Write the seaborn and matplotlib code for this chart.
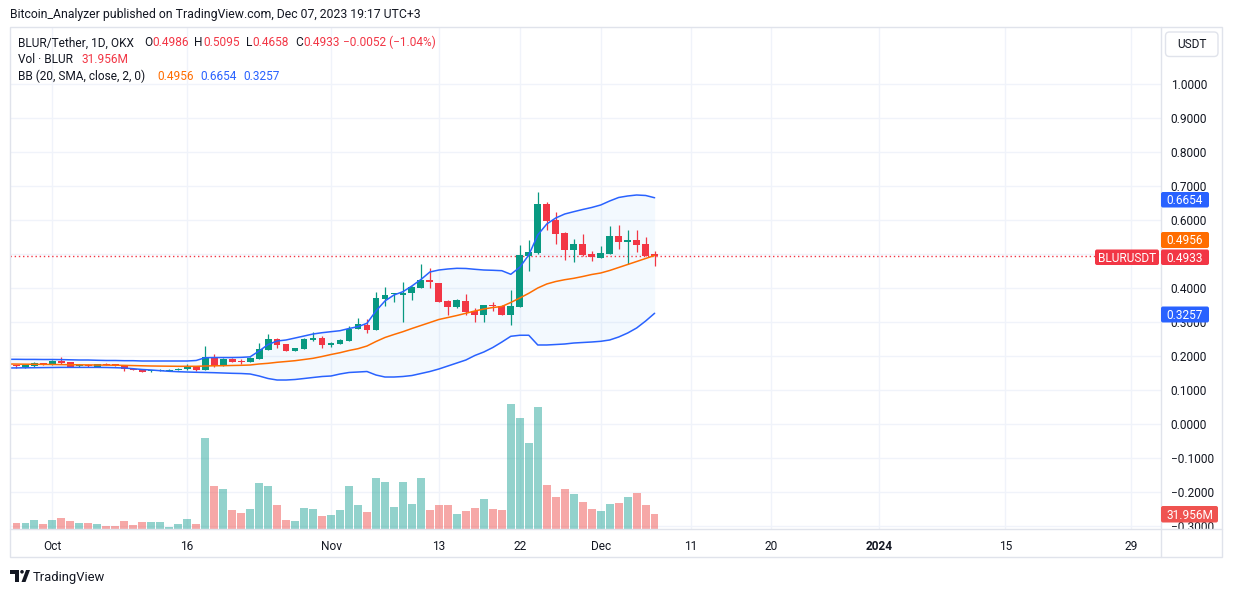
"""BLUR/USDT daily candles with Bollinger Bands and volume, TradingView style."""

import matplotlib

matplotlib.use("Agg")
import matplotlib.pyplot as plt  # noqa: E402
import matplotlib.dates as mdates  # noqa: E402
import matplotlib.transforms as mtransforms  # noqa: E402
from matplotlib.lines import Line2D  # noqa: E402
from matplotlib.patches import Circle, FancyBboxPatch, Polygon, Rectangle  # noqa: E402
import numpy as np  # noqa: E402
import pandas as pd  # noqa: E402
import seaborn as sns  # noqa: E402

W, H = 1233, 592

# ---- data ----
dates = pd.date_range("2023-09-26", "2023-12-07", freq="D")

opens = [
    0.1735, 0.1710, 0.1667, 0.1697, 0.1785, 0.1755, 0.1853, 0.1814, 0.1716, 0.1735,
    0.1676, 0.1765, 0.1755, 0.1697, 0.1627, 0.1609, 0.1550, 0.1562, 0.1565, 0.1597,
    0.1609, 0.1697, 0.1597, 0.1971, 0.1706, 0.1921, 0.1853, 0.1833, 0.1921, 0.2176,
    0.2500, 0.2353, 0.2157, 0.2206, 0.2462, 0.2529, 0.2333, 0.2363, 0.2451, 0.2804,
    0.2912, 0.2775, 0.3686, 0.3815, 0.3785, 0.3844, 0.4010, 0.4235, 0.4138, 0.3618,
    0.3450, 0.3618, 0.3324, 0.3215, 0.3500, 0.3471, 0.3215, 0.3450, 0.4950, 0.5040,
    0.6470, 0.6000, 0.5618, 0.5127, 0.5294, 0.5000, 0.4890, 0.5010, 0.5530, 0.5360,
    0.5410, 0.5294, 0.4986,
]
highs = [
    0.1765, 0.1735, 0.1750, 0.1833, 0.1800, 0.1870, 0.1970, 0.1830, 0.1765, 0.1760,
    0.1775, 0.1780, 0.1770, 0.1735, 0.1640, 0.1620, 0.1590, 0.1610, 0.1610, 0.1650,
    0.1765, 0.1710, 0.2290, 0.2060, 0.1930, 0.1930, 0.1903, 0.1960, 0.2380, 0.2650,
    0.2540, 0.2365, 0.2245, 0.2520, 0.2706, 0.2580, 0.2420, 0.2490, 0.2880, 0.3126,
    0.3088, 0.3880, 0.4030, 0.3862, 0.4176, 0.4060, 0.4700, 0.4590, 0.4150, 0.3650,
    0.3690, 0.3810, 0.3400, 0.3500, 0.3590, 0.3500, 0.3940, 0.5260, 0.5410, 0.6820,
    0.6530, 0.6235, 0.5640, 0.5450, 0.5590, 0.5090, 0.5235, 0.5820, 0.5850, 0.5706,
    0.5706, 0.5500, 0.5095,
]
lows = [
    0.1676, 0.1647, 0.1660, 0.1690, 0.1745, 0.1745, 0.1765, 0.1665, 0.1686, 0.1690,
    0.1670, 0.1725, 0.1705, 0.1569, 0.1585, 0.1530, 0.1520, 0.1550, 0.1555, 0.1590,
    0.1600, 0.1569, 0.1590, 0.1690, 0.1700, 0.1815, 0.1765, 0.1825, 0.1910, 0.2165,
    0.2245, 0.2150, 0.2150, 0.2195, 0.2441, 0.2245, 0.2255, 0.2350, 0.2440, 0.2790,
    0.2685, 0.2770, 0.3480, 0.3600, 0.3000, 0.3650, 0.3990, 0.4010, 0.3590, 0.3206,
    0.3400, 0.3206, 0.3000, 0.3010, 0.3330, 0.3200, 0.2920, 0.3440, 0.4510, 0.4990,
    0.5706, 0.5290, 0.4820, 0.4770, 0.4950, 0.4800, 0.4870, 0.5000, 0.5150, 0.4700,
    0.5070, 0.4950, 0.4658,
]
closes = [
    0.1697, 0.1700, 0.1726, 0.1794, 0.1755, 0.1853, 0.1794, 0.1676, 0.1735, 0.1706,
    0.1765, 0.1735, 0.1716, 0.1609, 0.1597, 0.1539, 0.1562, 0.1588, 0.1590, 0.1627,
    0.1697, 0.1597, 0.1971, 0.1706, 0.1921, 0.1824, 0.1833, 0.1951, 0.2206, 0.2500,
    0.2324, 0.2157, 0.2235, 0.2510, 0.2529, 0.2324, 0.2392, 0.2471, 0.2804, 0.2932,
    0.2775, 0.3706, 0.3794, 0.3844, 0.3862, 0.4029, 0.4235, 0.4167, 0.3597, 0.3450,
    0.3647, 0.3303, 0.3215, 0.3500, 0.3471, 0.3215, 0.3471, 0.4971, 0.5068, 0.6470,
    0.5980, 0.5597, 0.5127, 0.5294, 0.4980, 0.4903, 0.5030, 0.5530, 0.5360, 0.5410,
    0.5270, 0.4950, 0.4933,
]
volumes_m = [
    6.5, 13, 13, 19.5, 11, 19.5, 24, 17.5, 13, 13,
    11, 6.5, 6.5, 17.5, 8.5, 15, 15, 15, 4.5, 11,
    21.5, 11, 198, 93, 87, 41, 35, 43, 100, 93,
    52, 19.5, 17.5, 45.5, 43, 28, 30, 41, 93, 52,
    37, 111, 102, 48, 102, 54, 111, 41, 52, 52,
    32.5, 39, 45.5, 65, 43, 41, 271, 241, 187, 265,
    95.5, 69.5, 87, 76, 58.5, 43, 39, 54, 56.5, 69.5,
    78, 52, 31.956,
]
bb_upper = [
    0.1903, 0.1903, 0.1900, 0.1900, 0.1897, 0.1897, 0.1894, 0.1888, 0.1882, 0.1882,
    0.1874, 0.1868, 0.1868, 0.1862, 0.1862, 0.1853, 0.1853, 0.1853, 0.1853, 0.1853,
    0.1853, 0.1868, 0.1950, 0.1955, 0.1955, 0.1955, 0.1960, 0.1975, 0.2147, 0.2338,
    0.2441, 0.2471, 0.2529, 0.2588, 0.2647, 0.2685, 0.2715, 0.2744, 0.2809, 0.2862,
    0.2962, 0.3324, 0.3618, 0.3794, 0.3891, 0.4059, 0.4250, 0.4471, 0.4529, 0.4559,
    0.4579, 0.4574, 0.4550, 0.4529, 0.4521, 0.4509, 0.4403, 0.4609, 0.4971, 0.5559,
    0.5882, 0.6059, 0.6176, 0.6244, 0.6309, 0.6368, 0.6441, 0.6559, 0.6662, 0.6706,
    0.6735, 0.6721, 0.6654,
]
bb_basis = [
    0.1765, 0.1762, 0.1759, 0.1756, 0.1753, 0.1750, 0.1747, 0.1744, 0.1741, 0.1738,
    0.1735, 0.1732, 0.1729, 0.1724, 0.1718, 0.1712, 0.1706, 0.1703, 0.1700, 0.1697,
    0.1697, 0.1697, 0.1706, 0.1712, 0.1715, 0.1721, 0.1726, 0.1735, 0.1765, 0.1785,
    0.1815, 0.1838, 0.1862, 0.1897, 0.1932, 0.1985, 0.2044, 0.2097, 0.2162, 0.2215,
    0.2294, 0.2426, 0.2544, 0.2632, 0.2715, 0.2809, 0.2897, 0.2985, 0.3074, 0.3132,
    0.3191, 0.3256, 0.3324, 0.3382, 0.3426, 0.3456, 0.3574, 0.3706, 0.3844, 0.4000,
    0.4118, 0.4191, 0.4244, 0.4285, 0.4338, 0.4397, 0.4441, 0.4515, 0.4603, 0.4691,
    0.4779, 0.4868, 0.4956,
]
bb_lower = [
    0.1647, 0.1650, 0.1653, 0.1656, 0.1659, 0.1662, 0.1665, 0.1665, 0.1665, 0.1665,
    0.1665, 0.1662, 0.1656, 0.1647, 0.1626, 0.1603, 0.1588, 0.1568, 0.1550, 0.1538,
    0.1529, 0.1521, 0.1515, 0.1509, 0.1500, 0.1491, 0.1485, 0.1471, 0.1412, 0.1338,
    0.1294, 0.1294, 0.1309, 0.1338, 0.1368, 0.1397, 0.1412, 0.1471, 0.1515, 0.1529,
    0.1544, 0.1441, 0.1382, 0.1382, 0.1397, 0.1426, 0.1485, 0.1544, 0.1618, 0.1706,
    0.1794, 0.1882, 0.2015, 0.2118, 0.2250, 0.2410, 0.2580, 0.2610, 0.2610, 0.2324,
    0.2324, 0.2338, 0.2353, 0.2382, 0.2397, 0.2412, 0.2432, 0.2471, 0.2559, 0.2676,
    0.2824, 0.3029, 0.3257,
]

price_ticks = [1.0, 0.9, 0.8, 0.7, 0.6, 0.5, 0.4, 0.3, 0.2, 0.1, 0.0, -0.1, -0.2, -0.3]
# 0.5000 sits fully under the last-price labels, so it is left blank
hidden_ticks = [0.5]
date_ticks = ["2023-10-01", "2023-10-16", "2023-11-01", "2023-11-13", "2023-11-22",
              "2023-12-01", "2023-12-11", "2023-12-20", "2024-01-01", "2024-01-15",
              "2024-01-29"]
date_tick_labels = ["Oct", "16", "Nov", "13", "22", "Dec", "11", "20", "2024", "15", "29"]

last_close = closes[-1]

# ---- style ----
UP, DOWN = "#089981", "#f23645"
VOL_UP, VOL_DOWN = "#26a69a", "#ef5350"
BLUE, ORANGE = "#2962ff", "#ff6d00"
TXT = "#131722"
GRID = "#f0f3fa"
BORDER = "#e0e3eb"
FS = 8.6  # pt

sns.set_theme(style="white")
plt.rcParams["font.family"] = ["Roboto", "DejaVu Sans"]

df = pd.DataFrame({
    "date": dates, "open": opens, "high": highs, "low": lows, "close": closes,
    "volume": volumes_m, "upper": bb_upper, "basis": bb_basis, "lower": bb_lower,
})
df["x"] = mdates.date2num(df["date"])
df["up"] = df["close"] >= df["open"]

dec1 = mdates.date2num(pd.Timestamp("2023-12-01"))
XLIM = (dec1 - 65.71, dec1 + 62.33)
YLIM = (-0.3088, 1.1676)
VOL_TOP = 1089

fig = plt.figure(figsize=(W / 100, H / 100), dpi=100)
fig.patch.set_facecolor("white")
PX = mtransforms.IdentityTransform()


def fx(x):
    return x / W


def fy(y):
    return 1 - y / H


def ftext(x, yc, s, color=TXT, size=FS, ha="left", **kw):
    # place text by its visual centre line (top-origin pixel coords)
    px = size * 100 / 72
    return fig.text(fx(x), fy(yc + 0.36 * px), s, color=color, fontsize=size,
                    ha=ha, va="baseline", **kw)


rect = [fx(10), fy(529), 1151 / W, 502 / H]
ax_bg = fig.add_axes(rect, zorder=1)
ax_vol = fig.add_axes(rect, zorder=2)
ax = fig.add_axes(rect, zorder=3)

tick_x = mdates.date2num(pd.to_datetime(date_ticks))

# grid layer
for p in price_ticks:
    ax_bg.axhline(p, color=GRID, lw=1)
for t in tick_x:
    ax_bg.axvline(t, color=GRID, lw=1)
ax_bg.set_xlim(XLIM)
ax_bg.set_ylim(YLIM)
ax_bg.set_axis_off()

# volume layer
vol_cols = np.where(df["up"], VOL_UP, VOL_DOWN)
ax_vol.bar(df["x"], df["volume"], width=0.86, color=vol_cols, alpha=0.5, lw=0)
ax_vol.set_xlim(XLIM)
ax_vol.set_ylim(0, VOL_TOP)
ax_vol.set_axis_off()

# price layer: Bollinger fill + lines, candles
ax.fill_between(df["x"], df["lower"], df["upper"], color="#2196f3", alpha=0.05, lw=0, zorder=1)
cols = np.where(df["up"], UP, DOWN)
ax.vlines(df["x"], df["low"], df["high"], colors=cols, lw=0.9, zorder=3)
body_lo = np.minimum(df["open"], df["close"])
body_h = np.maximum((df["close"] - df["open"]).abs(), 0.003)
ax.bar(df["x"], body_h, bottom=body_lo, width=0.76, color=cols, lw=0, zorder=3)
sns.lineplot(data=df, x="x", y="upper", ax=ax, color=BLUE, lw=1.1, legend=False, zorder=4)
sns.lineplot(data=df, x="x", y="lower", ax=ax, color=BLUE, lw=1.1, legend=False, zorder=4)
sns.lineplot(data=df, x="x", y="basis", ax=ax, color=ORANGE, lw=1.1, legend=False, zorder=4)
ax.axhline(last_close, xmin=0, xmax=(1095 - 10) / 1151, color=DOWN, lw=1,
           ls=(0, (1, 2)), zorder=2)

ax.set_xlim(XLIM)
ax.set_ylim(YLIM)
ax.set_xlabel("")
ax.set_ylabel("")
ax.patch.set_visible(False)
for s in ax.spines.values():
    s.set_visible(False)
ax.yaxis.tick_right()
ax.set_yticks(price_ticks)
ax.set_yticklabels(["" if p in hidden_ticks else f"{p:.4f}".replace("-", "\u2212")
                    for p in price_ticks])
ax.tick_params(axis="y", length=0, pad=7, labelsize=FS, labelcolor=TXT)
ax.set_xticks(tick_x)
ax.set_xticklabels(date_tick_labels)
ax.tick_params(axis="x", length=0, pad=8, labelsize=FS, labelcolor=TXT)
for lab in ax.get_xticklabels():
    if lab.get_text() == "2024":
        lab.set_fontweight("bold")

# ---- frame ----
fig.add_artist(Rectangle((fx(1162), fy(556)), (1221 - 1162) / W, (556 - 530) / H,
                         transform=fig.transFigure, fc="white", ec="none", zorder=10))
fig.add_artist(Rectangle((fx(9.5), fy(557)), (1222 - 9.5) / W, (557 - 27) / H,
                         transform=fig.transFigure, fill=False, ec=BORDER, lw=1, zorder=11))
fig.add_artist(Line2D([fx(1161), fx(1161)], [fy(27), fy(557)], color=BORDER, lw=1, zorder=11))
fig.add_artist(Line2D([fx(9.5), fx(1222)], [fy(529), fy(529)], color=BORDER, lw=1, zorder=11))


def label_box(x0, y0, x1, y1, color, text):
    fig.add_artist(FancyBboxPatch((x0, H - y1), x1 - x0, y1 - y0,
                                  boxstyle="round,pad=0,rounding_size=2",
                                  transform=PX, fc=color, ec="none", zorder=12))
    t = ftext((x0 + x1) / 2, (y0 + y1) / 2, text, color="white", ha="center")
    t.set_zorder(13)


label_box(1161, 192, 1209, 207.5, BLUE, f"{bb_upper[-1]:.4f}")
label_box(1161, 232, 1209, 248, ORANGE, f"{bb_basis[-1]:.4f}")
label_box(1161, 249.5, 1209, 265, DOWN, f"{last_close:.4f}")
label_box(1095, 249.5, 1159, 265, DOWN, "BLURUSDT")
label_box(1161, 306.5, 1209, 322.5, BLUE, f"{bb_lower[-1]:.4f}")
label_box(1161, 506, 1218, 522.5, VOL_DOWN, f"{volumes_m[-1]:.3f}M")

# currency box
fig.add_artist(FancyBboxPatch((1165.5, H - 56.5), 52.5, 24.5,
                              boxstyle="round,pad=0,rounding_size=4",
                              transform=PX, fc="white", ec=BORDER, lw=1, zorder=12))
ftext(1191.5, 44, "USDT", ha="center").set_zorder(13)

# ---- header and legend ----
ftext(10, 14, "Bitcoin_Analyzer published on TradingView.com, Dec 07, 2023 19:17 UTC+3", size=8.8)

legend_1 = [(18, "BLUR/Tether, 1D, OKX", TXT), (144, "O", TXT), (152, f"{opens[-1]:.4f}", DOWN),
            (194, "H", TXT), (203, f"{highs[-1]:.4f}", DOWN), (246, "L", TXT),
            (252, f"{lows[-1]:.4f}", DOWN), (295, "C", TXT), (303, f"{last_close:.4f}", DOWN),
            (343, "\u22120.0052 (\u22121.04%)", DOWN)]
for x0, s, c in legend_1:
    ftext(x0, 42, s, color=c)
ftext(18, 59, "Vol \u00b7 BLUR")
ftext(81, 59, "31.956M", color=DOWN)
ftext(18, 76, "BB (20, SMA, close, 2, 0)")
ftext(157, 76, f"{bb_basis[-1]:.4f}", color=ORANGE)
ftext(200, 76, f"{bb_upper[-1]:.4f}", color=BLUE)
ftext(243, 76, f"{bb_lower[-1]:.4f}", color=BLUE)

# ---- TradingView footer ----
logo = [
    Rectangle((10, H - 573.5), 9, 3.5),
    Rectangle((14.5, H - 582), 4.5, 12),
    Circle((22, H - 571.8), 1.8),
    Polygon([(21.5, H - 582), (26, H - 570), (30, H - 570), (25.5, H - 582)]),
]
for shp in logo:
    shp.set_transform(PX)
    shp.set_facecolor(TXT)
    shp.set_edgecolor("none")
    fig.add_artist(shp)
ftext(33, 576, "TradingView", size=9.4)

fig.savefig("out.png", dpi=100)
